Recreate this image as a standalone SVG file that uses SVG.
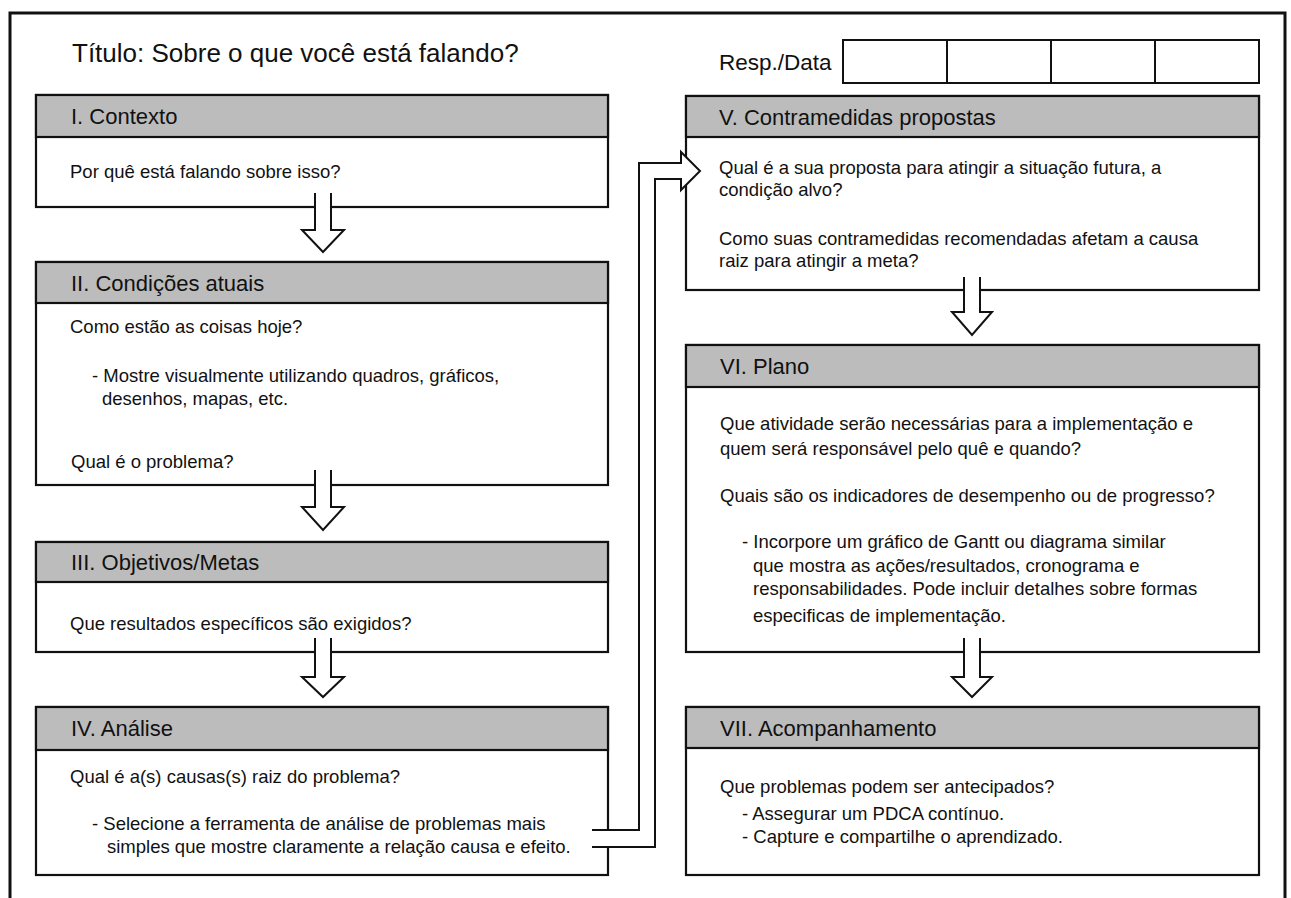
<svg xmlns="http://www.w3.org/2000/svg" width="1291" height="898" viewBox="0 0 1291 898">
<style>
.box{fill:#ffffff;stroke:#111;stroke-width:2.2}
.hdr{fill:#bcbcbc;stroke:#111;stroke-width:2.2}
.ht{font-family:"Liberation Sans",Arial,sans-serif;font-size:22px;fill:#111}
.bt{font-family:"Liberation Sans",Arial,sans-serif;font-size:18.5px;fill:#111}
.arr{fill:#ffffff;stroke:#111;stroke-width:2;stroke-linejoin:miter}
</style>
<rect x="0" y="0" width="1291" height="898" fill="#ffffff"/>
<path d="M10,905 L10,13 L1285,13 L1285,905" fill="none" stroke="#111" stroke-width="3"/>
<text x="72" y="62" font-family="'Liberation Sans',Arial,sans-serif" font-size="26px" fill="#111">Título: Sobre o que você está falando?</text>

<g id="resp-data">
<text x="719" y="70" font-family="'Liberation Sans',Arial,sans-serif" font-size="22.5px" fill="#111">Resp./Data</text>
<rect x="843" y="40" width="416" height="43" fill="#fff" stroke="#111" stroke-width="2"/>
<line x1="947" y1="40" x2="947" y2="83" stroke="#111" stroke-width="2"/>
<line x1="1051" y1="40" x2="1051" y2="83" stroke="#111" stroke-width="2"/>
<line x1="1155" y1="40" x2="1155" y2="83" stroke="#111" stroke-width="2"/>
</g>

<g id="node-1">
<rect class="box" x="36" y="95" width="572" height="112"/>
<rect class="hdr" x="36" y="95" width="572" height="42"/>
<text class="ht" x="71" y="124">I. Contexto</text>
<text class="bt" x="70" y="178">Por quê está falando sobre isso?</text>
</g>

<g id="node-2">
<rect class="box" x="36" y="262" width="572" height="223"/>
<rect class="hdr" x="36" y="262" width="572" height="41"/>
<text class="ht" x="71" y="291">II. Condições atuais</text>
<text class="bt" x="70" y="333">Como estão as coisas hoje?</text>
<text class="bt" x="92" y="382">- Mostre visualmente utilizando quadros, gráficos,</text>
<text class="bt" x="102" y="405">desenhos, mapas, etc.</text>
<text class="bt" x="71" y="468">Qual é o problema?</text>
</g>

<g id="node-3">
<rect class="box" x="36" y="542" width="572" height="110"/>
<rect class="hdr" x="36" y="542" width="572" height="40"/>
<text class="ht" x="71" y="570">III. Objetivos/Metas</text>
<text class="bt" x="70" y="630">Que resultados específicos são exigidos?</text>
</g>

<g id="node-4">
<rect class="box" x="36" y="707" width="572" height="168"/>
<rect class="hdr" x="36" y="707" width="572" height="43"/>
<text class="ht" x="71" y="736">IV. Análise</text>
<text class="bt" x="70" y="783">Qual é a(s) causas(s) raiz do problema?</text>
<text class="bt" x="92" y="830">- Selecione a ferramenta de análise de problemas mais</text>
<text class="bt" x="107" y="853">simples que mostre claramente a relação causa e efeito.</text>
</g>

<g id="node-5">
<rect class="box" x="686" y="96" width="573" height="194"/>
<rect class="hdr" x="686" y="96" width="573" height="41"/>
<text class="ht" x="719" y="125">V. Contramedidas propostas</text>
<text class="bt" x="719" y="174">Qual é a sua proposta para atingir a situação futura, a</text>
<text class="bt" x="719" y="196">condição alvo?</text>
<text class="bt" x="719" y="245">Como suas contramedidas recomendadas afetam a causa</text>
<text class="bt" x="719" y="267">raiz para atingir a meta?</text>
</g>

<g id="node-6">
<rect class="box" x="686" y="345" width="573" height="307"/>
<rect class="hdr" x="686" y="345" width="573" height="42"/>
<text class="ht" x="720" y="374">VI. Plano</text>
<text class="bt" x="720" y="430">Que atividade serão necessárias para a implementação e</text>
<text class="bt" x="720" y="455">quem será responsável pelo quê e quando?</text>
<text class="bt" x="720" y="502">Quais são os indicadores de desempenho ou de progresso?</text>
<text class="bt" x="742" y="548">- Incorpore um gráfico de Gantt ou diagrama similar</text>
<text class="bt" x="753" y="572">que mostra as ações/resultados, cronograma e</text>
<text class="bt" x="753" y="595">responsabilidades. Pode incluir detalhes sobre formas</text>
<text class="bt" x="753" y="622">especificas de implementação.</text>
</g>

<g id="node-7">
<rect class="box" x="686" y="707" width="573" height="168"/>
<rect class="hdr" x="686" y="707" width="573" height="41"/>
<text class="ht" x="720" y="736">VII. Acompanhamento</text>
<text class="bt" x="720" y="793">Que problemas podem ser antecipados?</text>
<text class="bt" x="742" y="820">- Assegurar um PDCA contínuo.</text>
<text class="bt" x="742" y="843">- Capture e compartilhe o aprendizado.</text>
</g>

<g id="connectors">
<path class="arr" d="M315,193 L315,230 L302,230 L323,252 L344,230 L331,230 L331,193"/>
<path class="arr" d="M315,470 L315,507 L302,507 L323,530 L344,507 L331,507 L331,470"/>
<path class="arr" d="M315,638 L315,677 L302,677 L323,697 L344,677 L331,677 L331,638"/>
<path class="arr" d="M964,277 L964,312 L952,312 L972,335 L992,312 L980,312 L980,277"/>
<path class="arr" d="M964,638 L964,677 L952,677 L972,697 L992,677 L980,677 L980,638"/>
<path class="arr" d="M592,830 L639,830 L639,163 L681,163 L681,152 L700,171 L681,190 L681,179 L655,179 L655,847 L592,847"/>
</g>
</svg>
